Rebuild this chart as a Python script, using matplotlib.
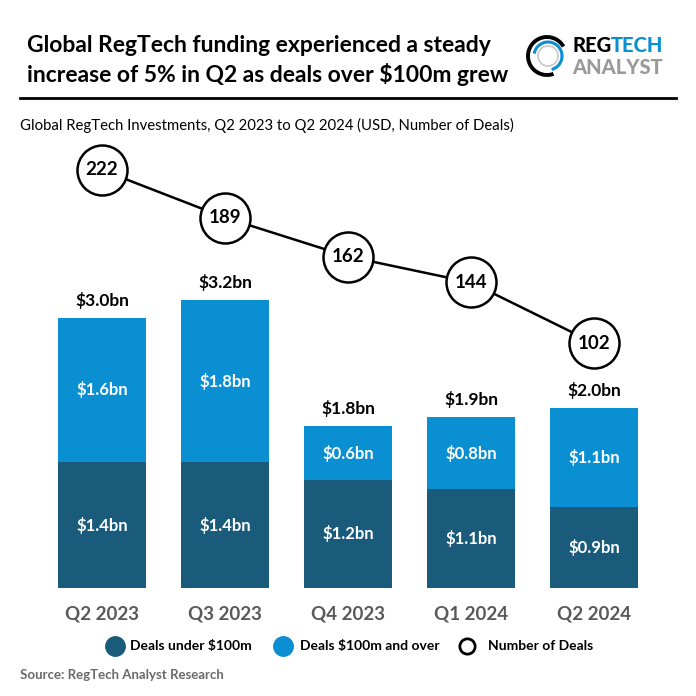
import numpy as np
import matplotlib
matplotlib.use("Agg")
from matplotlib import pyplot as plt
from matplotlib.patches import Arc
from matplotlib.lines import Line2D

plt.rcParams['font.family'] = ['Lato', 'DejaVu Sans']

quarters = ["Q2 2023", "Q3 2023", "Q4 2023", "Q1 2024", "Q2 2024"]
under_100m = [1.4, 1.4, 1.2, 1.1, 0.9]
over_100m = [1.6, 1.8, 0.6, 0.8, 1.1]
deal_counts = [222, 189, 162, 144, 102]

dark = "#1a5b7c"
light = "#0b8fd3"
W = H = 696.0

fig = plt.figure(figsize=(6.96, 6.96), dpi=100, facecolor="white")


def fx(px):
    return px / W


def fy(py):
    return 1 - py / H


# main chart area: bar bottoms at 588px, top of area at 140px
ax = fig.add_axes([0, fy(588), 1, (588 - 140) / H])
x = np.arange(len(quarters))
ax.set_xlim(-102 / 123, (696 - 102) / 123)
ax.set_ylim(0, 448 / 90)
ax.axis("off")

ax.bar(x, under_100m, width=88 / 123, color=dark, zorder=2)
ax.bar(x, over_100m, bottom=under_100m, width=88 / 123, color=light, zorder=2)

for i in range(len(quarters)):
    u, o = under_100m[i], over_100m[i]
    ax.text(x[i], u / 2, f"${u:.1f}bn", ha="center", va="center",
            color="white", fontsize=12, fontweight="bold", zorder=3)
    ax.text(x[i], u + o / 2, f"${o:.1f}bn", ha="center", va="center",
            color="white", fontsize=12, fontweight="bold", zorder=3)
    ax.text(x[i], u + o + 0.1, f"${u + o:.1f}bn", ha="center", va="bottom",
            color="black", fontsize=12.5, fontweight="bold", zorder=3)

# number of deals on a twin axis
ax2 = ax.twinx()
ax2.set_ylim(-67.9, 242.8)
ax2.axis("off")
ax2.plot(x, deal_counts, color="black", lw=1.8, zorder=4)
ax2.plot(x, deal_counts, "o", ms=36, mfc="white", mec="black", mew=1.8, zorder=5)
for i, d in enumerate(deal_counts):
    ax2.text(x[i], d, str(d), ha="center", va="center", fontsize=13.5,
             fontweight="bold", zorder=6)

for i, q in enumerate(quarters):
    fig.text(fx(102 + 123 * i), fy(614), q, ha="center", va="center",
             fontsize=13.5, fontweight="bold", color="#595959")

# title block
fig.text(fx(27), fy(45), "Global RegTech funding experienced a steady",
         fontsize=16.5, fontweight="bold", va="center")
fig.text(fx(27), fy(75), "increase of 5% in Q2 as deals over $100m grew",
         fontsize=16.5, fontweight="bold", va="center")
fig.add_artist(Line2D([fx(20), fx(676)], [fy(98), fy(98)], color="black", lw=2))
fig.text(fx(20), fy(125), "Global RegTech Investments, Q2 2023 to Q2 2024 (USD, Number of Deals)",
         fontsize=10.7, va="center")

# logo
lax = fig.add_axes([fx(520), fy(90), fx(160), 60 / H])
lax.set_xlim(520, 680)
lax.set_ylim(90, 30)
lax.set_aspect("equal")
lax.axis("off")
lax.add_patch(Arc((547, 56), 38, 38, theta1=70, theta2=330, color="black", lw=2.8))
lax.add_patch(Arc((548, 56), 28, 28, theta1=190, theta2=75, color=light, lw=2.2))
lax.add_patch(Arc((548, 56), 20, 20, theta1=0, theta2=360, color="#c8c8c8", lw=1.2))
reg = lax.text(572, 46, "REG", fontsize=14.5, fontweight="black", va="center", color="black")
fig.canvas.draw()
bb = reg.get_window_extent().transformed(lax.transData.inverted())
lax.text(bb.x1, 46, "TECH", fontsize=14.5, fontweight="black", va="center", color=light)
lax.text(572, 67, "ANALYST", fontsize=14.5, fontweight="black", va="center", color="#9a9a9a")

# legend
ly = fy(646)
fig.add_artist(Line2D([fx(115)], [ly], marker="o", ms=14, color=dark, mec=dark))
fig.text(fx(130), ly, "Deals under $100m", fontsize=10, fontweight="bold", va="center")
fig.add_artist(Line2D([fx(283)], [ly], marker="o", ms=14, color=light, mec=light))
fig.text(fx(300), ly, "Deals $100m and over", fontsize=10, fontweight="bold", va="center")
fig.add_artist(Line2D([fx(467)], [ly], marker="o", ms=11, mfc="white", mec="black", mew=2))
fig.text(fx(488), ly, "Number of Deals", fontsize=10, fontweight="bold", va="center")

fig.text(fx(20), fy(675), "Source: RegTech Analyst Research", fontsize=9.5,
         fontweight="bold", color="#6a6a6a", va="center")

fig.savefig("out.png", dpi=100, facecolor="white")
